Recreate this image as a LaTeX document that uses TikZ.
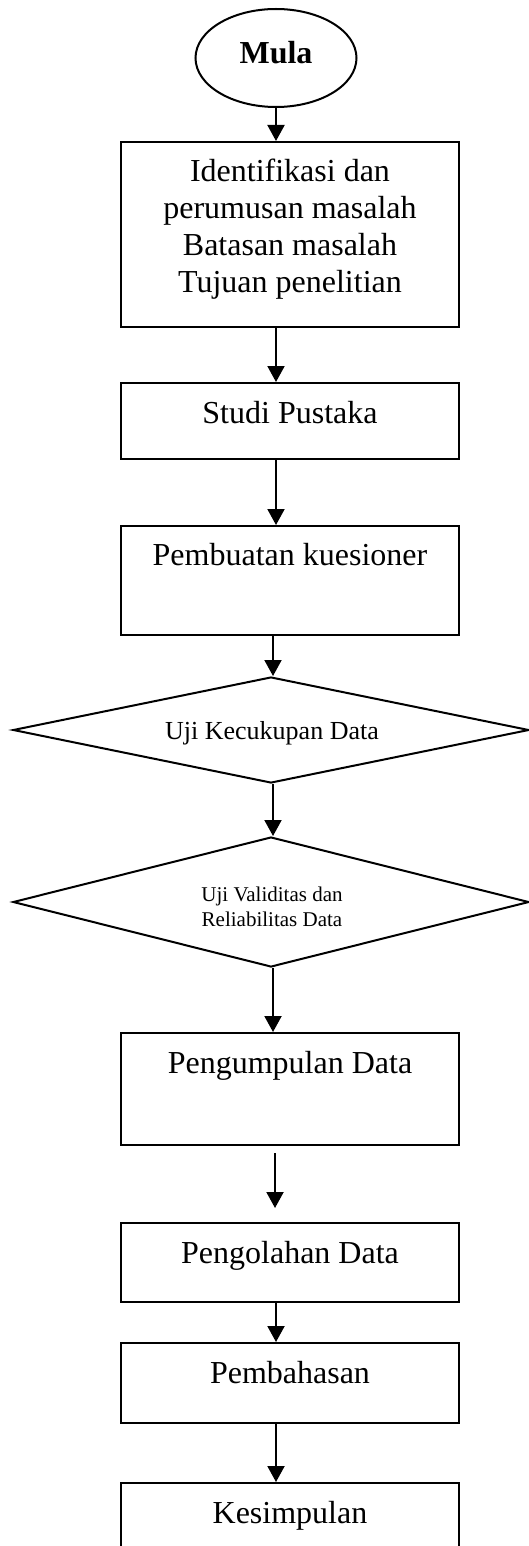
\documentclass[tikz,border=0pt]{standalone}
\usepackage{fontspec}
\setmainfont{Liberation Serif}
\usetikzlibrary{arrows.meta,shapes.geometric}
\begin{document}
\begin{tikzpicture}[x=1pt,y=-1pt,
  lw/.style={line width=2pt},
  stepbox/.style={draw,lw,rectangle,minimum width=338pt,inner sep=0pt},
  decbox/.style={draw,lw,diamond,minimum width=516pt,inner sep=0pt},
  startbox/.style={draw,lw,ellipse,minimum width=161pt,minimum height=98pt,inner sep=0pt},
  big/.style={font=\fontsize{32}{36.7}\selectfont,align=center,anchor=base,inner sep=0pt},
  mid/.style={font=\fontsize{26}{30}\selectfont,align=center,anchor=base,inner sep=0pt},
  small/.style={font=\fontsize{21}{25}\selectfont,align=center,anchor=base,inner sep=0pt},
  arr/.style={lw,-{Triangle[length=16pt,width=17pt]}}]
\useasboundingbox (0,0) rectangle (529,1546);
\clip (0,0) rectangle (529,1546);
\coordinate (ax) at (276,0);
\coordinate (dx) at (273,0);
% nodes
\node[startbox] (mula) at (276,58) {};
\node[big,font=\fontsize{32}{36.7}\selectfont\bfseries] at (276,64) {Mula};
\node[stepbox,minimum height=185pt] (b1) at (290,234.5) {};
\node[big] at (290,292) {Identifikasi dan\\perumusan masalah\\Batasan masalah\\Tujuan penelitian};
\node[stepbox,minimum height=76pt] (b2) at (290,421) {};
\node[big] at (290,423) {Studi Pustaka};
\node[stepbox,minimum height=109pt] (b3) at (290,580.5) {};
\node[big] at (290,565) {Pembuatan kuesioner};
\node[decbox,minimum height=106pt] (d1) at (271,730) {};
\node[mid] at (272,739) {Uji Kecukupan Data};
\node[decbox,minimum height=130pt] (d2) at (271,902) {};
\node[small] at (272,926) {Uji Validitas dan\\Reliabilitas Data};
\node[stepbox,minimum height=112pt] (b4) at (290,1089) {};
\node[big] at (290,1073) {Pengumpulan Data};
\node[stepbox,minimum height=79pt] (b5) at (290,1262.5) {};
\node[big] at (290,1263) {Pengolahan Data};
\node[stepbox,minimum height=80pt] (b6) at (290,1383) {};
\node[big] at (290,1383) {Pembahasan};
\node[stepbox,minimum height=117pt] (b7) at (290,1541.5) {};
\node[big] at (290,1523) {Kesimpulan};
\coordinate (fa) at (275,1153);
\coordinate (fb) at (275,1208);
% connectors
\draw[arr] (mula.south) -- (b1.north -| mula.south);
\draw[arr] (b1.south -| ax) -- (b2.north -| ax);
\draw[arr] (b2.south -| ax) -- (b3.north -| ax);
\draw[arr] (b3.south -| dx) -- (d1.north -| dx);
\draw[arr] (d1.south -| dx) -- (d2.north -| dx);
\draw[arr] (d2.south -| dx) -- (b4.north -| dx);
\draw[arr] (fa) -- (fb);
\draw[arr] (b5.south -| ax) -- (b6.north -| ax);
\draw[arr] (b6.south -| ax) -- (b7.north -| ax);
\end{tikzpicture}
\end{document}
